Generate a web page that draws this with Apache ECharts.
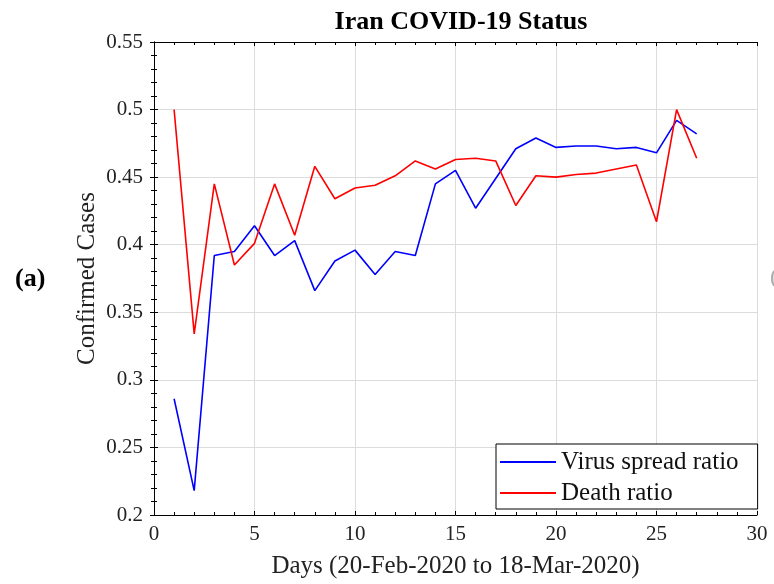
<!DOCTYPE html>
<html>
<head>
<meta charset="utf-8">
<script src="https://cdn.jsdelivr.net/npm/echarts@6/dist/echarts.min.js"></script>
<style>
  html, body { margin: 0; padding: 0; background: #fff; }
  #chart { width: 774px; height: 584px; }
</style>
</head>
<body>
<div id="chart"></div>
<script>
const days = [1, 2, 3, 4, 5, 6, 7, 8, 9, 10, 11, 12, 13, 14, 15, 16, 17, 18, 19, 20, 21, 22, 23, 24, 25, 26, 27]
const virusSpread = [0.286, 0.218, 0.392, 0.395, 0.414, 0.392, 0.403, 0.366, 0.388, 0.396, 0.378, 0.395, 0.392, 0.445, 0.455, 0.427, 0.449, 0.471, 0.479, 0.472, 0.473, 0.473, 0.471, 0.472, 0.468, 0.492, 0.482]
const deathRatio = [0.500, 0.334, 0.445, 0.385, 0.401, 0.445, 0.407, 0.458, 0.434, 0.442, 0.444, 0.451, 0.462, 0.456, 0.463, 0.464, 0.462, 0.429, 0.451, 0.450, 0.452, 0.453, 0.456, 0.459, 0.417, 0.500, 0.464]
const seriesNames = ['Virus spread ratio', 'Death ratio']
const seriesColors = ['#0000ff', '#ff0000']

const font = 'Liberation Serif'
const chart = echarts.init(document.getElementById('chart'))

// top / right frame axes, ticks only
const frameAxis = {
  axisLine: { show: true, lineStyle: { color: '#000', width: 1 } },
  axisTick: { show: true, inside: true, length: 4, lineStyle: { color: '#000' } },
  minorTick: { show: true, splitNumber: 5, length: 3, lineStyle: { color: '#000' } },
  axisLabel: { show: false },
  splitLine: { show: false }
}

const option = {
  animation: false,
  title: {
    text: 'Iran COVID-19 Status',
    left: 456,
    top: 4,
    textAlign: 'center',
    textStyle: { fontFamily: font, fontWeight: 'bold', fontSize: 26, color: '#000' }
  },
  grid: { left: 154, right: 17, top: 42, bottom: 68 },
  legend: {
    orient: 'vertical',
    left: 496,
    top: 444,
    padding: [5, 19, 3, 4],
    itemGap: 5,
    itemWidth: 56,
    itemHeight: 2,
    icon: 'rect',
    borderColor: '#000',
    borderWidth: 1,
    backgroundColor: '#fff',
    textStyle: { fontFamily: font, fontSize: 25, color: '#111', lineHeight: 26 },
    data: seriesNames
  },
  xAxis: [
    {
      type: 'value',
      min: 0,
      max: 30,
      interval: 5,
      name: 'Days (20-Feb-2020 to 18-Mar-2020)',
      nameLocation: 'middle',
      nameGap: 39,
      nameTextStyle: { fontFamily: font, fontSize: 25, color: '#222' },
      axisLine: { show: true, lineStyle: { color: '#000', width: 1 } },
      axisTick: { show: true, inside: true, length: 4, lineStyle: { color: '#000' } },
      minorTick: { show: true, splitNumber: 5, length: 3, lineStyle: { color: '#000' } },
      axisLabel: { fontFamily: font, fontSize: 21, color: '#222', margin: 9 },
      splitLine: { show: true, lineStyle: { color: '#dcdcdc', width: 1 } }
    },
    Object.assign({ type: 'value', position: 'top', min: 0, max: 30, interval: 5 }, frameAxis)
  ],
  yAxis: [
    {
      type: 'value',
      min: 0.2,
      max: 0.55,
      interval: 0.05,
      name: 'Confirmed Cases',
      nameLocation: 'middle',
      nameGap: 54,
      nameMoveOverlap: false,
      nameTextStyle: { fontFamily: font, fontSize: 25, color: '#222' },
      axisLine: { show: true, lineStyle: { color: '#000', width: 1 } },
      axisTick: { show: true, inside: true, length: 4, lineStyle: { color: '#000' } },
      minorTick: { show: true, splitNumber: 5, length: 3, lineStyle: { color: '#000' } },
      axisLabel: { fontFamily: font, fontSize: 21, color: '#222', margin: 11 },
      splitLine: { show: true, lineStyle: { color: '#dcdcdc', width: 1 } }
    },
    Object.assign({ type: 'value', position: 'right', min: 0.2, max: 0.55, interval: 0.05 }, frameAxis)
  ],
  graphic: [
    {
      type: 'text',
      left: 15,
      top: 266,
      style: { text: '(a)', fontFamily: font, fontWeight: 'bold', fontSize: 26, fill: '#000' }
    },
    {
      type: 'text',
      left: 770,
      top: 266,
      style: { text: '(', fontFamily: font, fontSize: 24, fill: '#aaa' }
    }
  ],
  series: [
    {
      name: seriesNames[0],
      type: 'line',
      data: days.map((d, i) => [d, virusSpread[i]]),
      showSymbol: false,
      color: seriesColors[0],
      lineStyle: { width: 1.6, color: seriesColors[0] }
    },
    {
      name: seriesNames[1],
      type: 'line',
      data: days.map((d, i) => [d, deathRatio[i]]),
      showSymbol: false,
      color: seriesColors[1],
      lineStyle: { width: 1.6, color: seriesColors[1] }
    }
  ]
}

chart.setOption(option)
</script>
</body>
</html>
